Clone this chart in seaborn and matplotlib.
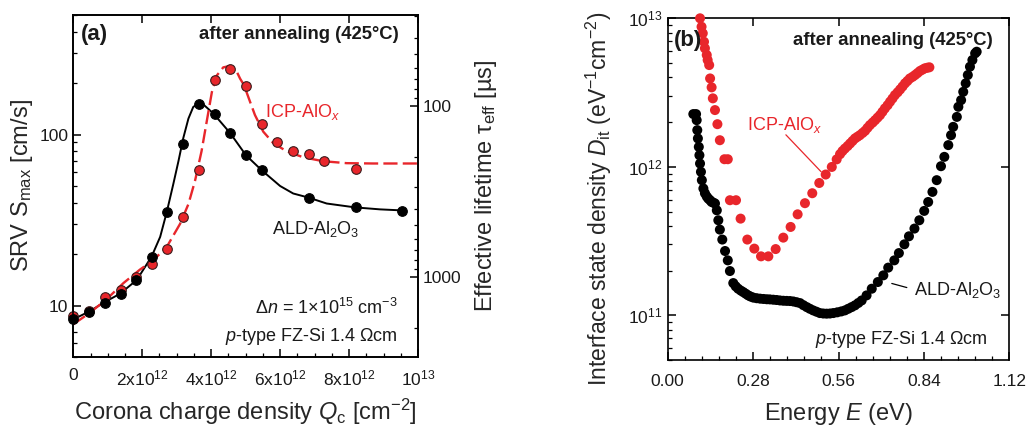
import numpy as np
import pandas as pd
import matplotlib
matplotlib.use('Agg')
import matplotlib.pyplot as plt
import matplotlib.ticker as ticker
import seaborn as sns

# panel (a): corona charge (1e12 cm^-2) vs S_max (cm/s)
ald_q = [0, 0.46, 0.91, 1.37, 1.82, 2.28, 2.73, 3.19, 3.64, 4.10, 4.55, 5.01, 5.46, 6.83, 8.19, 9.55]
ald_s = [8.3, 9.2, 10.4, 11.7, 14.1, 19.1, 35.1, 87.9, 150, 132, 101.7, 76.3, 61.7, 42.7, 37.5, 35.9]
icp_q = [0, 0.46, 0.91, 1.37, 1.82, 2.28, 2.73, 3.19, 3.64, 4.10, 4.55, 5.01, 5.46, 5.92, 6.37, 6.83, 7.28, 8.19]
icp_s = [8.7, 9.3, 11.2, 12.3, 14.6, 17.4, 21.3, 32.8, 61.9, 209, 242, 192, 116, 90, 80.5, 77.3, 69.8, 62.5]

# fit curves
ald_fit_q = [0, 0.48, 0.92, 1.35, 1.84, 2.27, 2.52, 2.71, 2.90, 3.05, 3.19, 3.34, 3.48, 3.63, 3.77,
             4.06, 4.55, 5.01, 5.47, 6.0, 6.38, 6.82, 7.35, 8.17, 8.9, 9.53]
ald_fit_s = [8.3, 9.27, 10.5, 11.7, 14.1, 19.3, 25.2, 35.1, 51.2, 69.8, 95.2, 124, 145, 152, 150,
             133, 102, 75.6, 61.7, 50.0, 45.2, 42.8, 39.5, 37.5, 36.5, 36.0]
icp_fit_q = [0, 0.48, 0.97, 1.45, 1.93, 2.32, 2.71, 3.10, 3.34, 3.53, 3.72, 3.87, 4.02, 4.16, 4.35,
             4.55, 4.72, 4.84, 4.95, 5.13, 5.27, 5.51, 5.80, 6.19, 6.67, 7.25, 7.93, 8.70, 10.0]
icp_fit_s = [7.77, 9.07, 10.9, 13.5, 16.2, 18.4, 22.0, 30.1, 39.2, 53.5, 79.8, 119, 177, 221, 247,
             252, 238, 212, 195, 155, 130, 104, 89.1, 79.8, 73.6, 69.8, 68.0, 67.7, 67.7]

# panel (b): energy (eV) vs log10 Dit
ald_e = [0.084, 0.093, 0.095, 0.097, 0.099, 0.102, 0.104, 0.106, 0.109, 0.112, 0.117, 0.122, 0.128, 0.133,
         0.139, 0.144, 0.150, 0.155, 0.161, 0.166, 0.171, 0.179, 0.188, 0.197, 0.204, 0.215, 0.223, 0.231,
         0.240, 0.248, 0.256, 0.264, 0.272, 0.281, 0.292, 0.303, 0.314, 0.325, 0.335, 0.346, 0.357, 0.368,
         0.379, 0.390, 0.401, 0.412, 0.423, 0.434, 0.445, 0.456, 0.466, 0.477, 0.488, 0.499, 0.510, 0.521,
         0.532, 0.543, 0.556, 0.569, 0.581, 0.592, 0.603, 0.614, 0.625, 0.636, 0.652, 0.669, 0.689, 0.707,
         0.723, 0.743, 0.758, 0.776, 0.791, 0.809, 0.825, 0.841, 0.854, 0.868, 0.882, 0.896, 0.907, 0.920,
         0.929, 0.936, 0.948, 0.953, 0.962, 0.969, 0.977, 0.984, 0.991, 0.999, 1.008, 1.013]
ald_logd = [12.355, 12.355, 12.314, 12.247, 12.191, 12.134, 12.078, 12.022, 11.966, 11.910, 11.854, 11.822,
            11.800, 11.786, 11.775, 11.763, 11.758, 11.753, 11.707, 11.640, 11.577, 11.510, 11.433, 11.370,
            11.298, 11.217, 11.195, 11.179, 11.166, 11.156, 11.145, 11.134, 11.126, 11.119, 11.115, 11.112,
            11.110, 11.108, 11.107, 11.105, 11.103, 11.100, 11.098, 11.097, 11.096, 11.093, 11.088, 11.082,
            11.068, 11.055, 11.044, 11.033, 11.024, 11.015, 11.012, 11.011, 11.012, 11.015, 11.020, 11.026,
            11.033, 11.044, 11.055, 11.067, 11.083, 11.100, 11.134, 11.179, 11.224, 11.269, 11.321, 11.370,
            11.419, 11.478, 11.532, 11.584, 11.640, 11.703, 11.763, 11.831, 11.910, 12.004, 12.067, 12.146,
            12.213, 12.269, 12.336, 12.404, 12.449, 12.505, 12.562, 12.618, 12.674, 12.719, 12.764, 12.775]
icp_e = [0.106, 0.111, 0.115, 0.119, 0.122, 0.128, 0.131, 0.136, 0.139, 0.144, 0.148, 0.155, 0.163, 0.171,
         0.186, 0.197, 0.204, 0.224, 0.239, 0.261, 0.284, 0.306, 0.330, 0.354, 0.379, 0.403, 0.426, 0.450,
         0.474, 0.497, 0.518, 0.538, 0.554, 0.565, 0.573, 0.581, 0.590, 0.598, 0.606, 0.614, 0.622, 0.630,
         0.639, 0.647, 0.655, 0.663, 0.672, 0.680, 0.688, 0.696, 0.704, 0.712, 0.721, 0.729, 0.737, 0.745,
         0.754, 0.762, 0.770, 0.778, 0.786, 0.794, 0.803, 0.811, 0.819, 0.827, 0.835, 0.843, 0.851, 0.858]
icp_logd = [13.0, 12.943, 12.899, 12.842, 12.798, 12.753, 12.719, 12.685, 12.595, 12.535, 12.461, 12.382,
            12.287, 12.179, 12.051, 12.051, 11.775, 11.775, 11.651, 11.510, 11.449, 11.397, 11.397, 11.446,
            11.523, 11.595, 11.680, 11.755, 11.822, 11.891, 11.948, 11.999, 12.05, 12.085, 12.106, 12.123,
            12.140, 12.157, 12.174, 12.191, 12.202, 12.213, 12.228, 12.242, 12.262, 12.281, 12.298, 12.314,
            12.331, 12.348, 12.370, 12.393, 12.415, 12.438, 12.460, 12.483, 12.502, 12.521, 12.541, 12.562,
            12.578, 12.595, 12.606, 12.618, 12.631, 12.645, 12.654, 12.663, 12.667, 12.670]

RED = '#e8262b'
TAU_K = 14770.0  # S * tau, (cm/s)*(us)

sns.set_theme(style='ticks')
plt.rcParams['font.family'] = ['Liberation Sans', 'DejaVu Sans']
plt.rcParams['mathtext.fontset'] = 'custom'
plt.rcParams['mathtext.rm'] = 'Liberation Sans'
plt.rcParams['mathtext.it'] = 'Liberation Sans:italic'
plt.rcParams['mathtext.bf'] = 'Liberation Sans:bold'
plt.rcParams['axes.linewidth'] = 1.2
plt.rcParams['axes.edgecolor'] = 'black'
plt.rcParams['text.color'] = '#1a1a1a'


def style_ticks(ax, pad):
    ax.tick_params(which='both', direction='in', colors='black', labelcolor='#1a1a1a', labelsize=12.5)
    ax.tick_params(which='major', length=5.5, width=1.1)
    ax.tick_params(which='minor', length=3, width=0.9)
    ax.tick_params(axis='x', which='major', pad=pad)


fig = plt.figure(figsize=(10.31, 4.29), dpi=100)
ax1 = fig.add_axes([73.3 / 1031, 1 - 357 / 429, 344.7 / 1031, 342 / 429])
ax2 = fig.add_axes([667.7 / 1031, 1 - 360 / 429, 341.6 / 1031, 341.7 / 429])

# ---- panel (a)
df_ald_fit = pd.DataFrame({'q': np.array(ald_fit_q) * 1e12, 's': ald_fit_s})
df_icp_fit = pd.DataFrame({'q': np.array(icp_fit_q) * 1e12, 's': icp_fit_s})
sns.lineplot(data=df_ald_fit, x='q', y='s', ax=ax1, color='black', lw=1.4, estimator=None, sort=False)
sns.lineplot(data=df_icp_fit, x='q', y='s', ax=ax1, color=RED, lw=1.7, estimator=None, sort=False,
             dashes=False)
ax1.lines[-1].set_dashes([6, 2.2])
df_ald = pd.DataFrame({'q': np.array(ald_q) * 1e12, 's': ald_s})
df_icp = pd.DataFrame({'q': np.array(icp_q) * 1e12, 's': icp_s})
sns.scatterplot(data=df_icp, x='q', y='s', ax=ax1, color=RED, edgecolor='#3a1c1c', linewidth=0.8,
                s=48, zorder=3, clip_on=False)
sns.scatterplot(data=df_ald, x='q', y='s', ax=ax1, color='black', edgecolor='black', linewidth=0.8,
                s=48, zorder=4, clip_on=False)

ax1.set_yscale('log')
ax1.set_xlim(0, 1e13)
ax1.set_ylim(5, 500)
ax1.xaxis.set_minor_locator(ticker.MultipleLocator(0.5e12))
ax1.set_xticks([0, 2e12, 4e12, 6e12, 8e12, 1e13],
               ['0', '2x10$^{12}$', '4x10$^{12}$', '6x10$^{12}$', '8x10$^{12}$', '10$^{13}$'])
ax1.yaxis.set_major_formatter(ticker.FuncFormatter(lambda v, p: '%g' % v))
ax1.yaxis.set_minor_formatter(ticker.NullFormatter())
style_ticks(ax1, 8)
ax1.tick_params(top=True, right=False)
ax1.set_xlabel('Corona charge density $\\mathit{Q}_{\\mathrm{c}}$ [cm$^{-2}$]', fontsize=17, labelpad=6)
ax1.set_ylabel('SRV S$_{\\mathrm{max}}$ [cm/s]', fontsize=17, labelpad=3)

ax1r = ax1.twinx()
ax1r.set_yscale('log')
ax1r.set_ylim(TAU_K / 5, TAU_K / 500)
ax1r.yaxis.set_major_formatter(ticker.FuncFormatter(lambda v, p: '%g' % v))
ax1r.yaxis.set_minor_formatter(ticker.NullFormatter())
style_ticks(ax1r, 8)
ax1r.set_ylabel('Effective lifetime \u03c4$_{\\mathrm{eff}}$ [\u00b5s]', fontsize=17, labelpad=8)
for sp in ax1r.spines.values():
    sp.set_linewidth(1.2)

t = ax1.transAxes
ax1.text(0.022, 0.942, '(a)', transform=t, fontsize=16, fontweight='bold', va='center', ha='left')
ax1.text(0.943, 0.942, 'after annealing (425\u00b0C)', transform=t, fontsize=13.3, fontweight='bold',
         va='center', ha='right')
ax1.text(0.556, 0.717, 'ICP-AlO$_{\\mathit{x}}$', transform=t, fontsize=13, color=RED, va='center')
ax1.text(0.576, 0.374, 'ALD-Al$_2$O$_3$', transform=t, fontsize=13, va='center')
ax1.text(0.942, 0.143, '\u0394$\\mathit{n}$ = 1\u00d710$^{15}$ cm$^{-3}$', transform=t, fontsize=13,
         va='center', ha='right')
ax1.text(0.942, 0.061, '$\\mathit{p}$-type FZ-Si 1.4 \u03a9cm', transform=t, fontsize=13,
         va='center', ha='right')

# ---- panel (b)
df_ald_b = pd.DataFrame({'e': ald_e, 'd': 10 ** np.array(ald_logd)})
df_icp_b = pd.DataFrame({'e': icp_e, 'd': 10 ** np.array(icp_logd)})
sns.scatterplot(data=df_ald_b, x='e', y='d', ax=ax2, color='black', edgecolor='none', s=52,
                zorder=3, clip_on=False)
sns.scatterplot(data=df_icp_b, x='e', y='d', ax=ax2, color=RED, edgecolor='none', s=52,
                zorder=4, clip_on=False)
ax2.set_yscale('log')
ax2.set_xlim(0, 1.12)
ax2.set_ylim(5e10, 1e13)
ax2.xaxis.set_major_locator(ticker.MultipleLocator(0.28))
ax2.xaxis.set_minor_locator(ticker.MultipleLocator(0.056))
ax2.xaxis.set_major_formatter(ticker.FormatStrFormatter('%.2f'))
ax2.yaxis.set_minor_formatter(ticker.NullFormatter())
style_ticks(ax2, 10)
ax2.tick_params(top=True, right=True)
ax2.set_xlabel('Energy $\\mathit{E}$ (eV)', fontsize=17, labelpad=9)
ax2.set_ylabel('Interface state density $\\mathit{D}_{\\mathrm{it}}$ (eV$^{-1}$cm$^{-2}$)', fontsize=16.5)
ax2.yaxis.set_label_coords(-0.157, 0.47)

t = ax2.transAxes
ax2.text(0.018, 0.936, '(b)', transform=t, fontsize=16, fontweight='bold', va='center', ha='left', zorder=5)
ax2.text(0.951, 0.936, 'after annealing (425\u00b0C)', transform=t, fontsize=13.3, fontweight='bold',
         va='center', ha='right')
ax2.text(0.231, 0.688, 'ICP-AlO$_{\\mathit{x}}$', transform=t, fontsize=13, color=RED, va='center')
ax2.plot([0.346, 0.449], [0.659, 0.551], transform=t, color=RED, lw=0.9)
ax2.text(0.722, 0.205, 'ALD-Al$_2$O$_3$', transform=t, fontsize=13, va='center')
ax2.plot([0.656, 0.700], [0.224, 0.212], transform=t, color='black', lw=0.9)
ax2.text(0.938, 0.059, '$\\mathit{p}$-type FZ-Si 1.4 \u03a9cm', transform=t, fontsize=13,
         va='center', ha='right')

fig.savefig('out.png', dpi=100)
